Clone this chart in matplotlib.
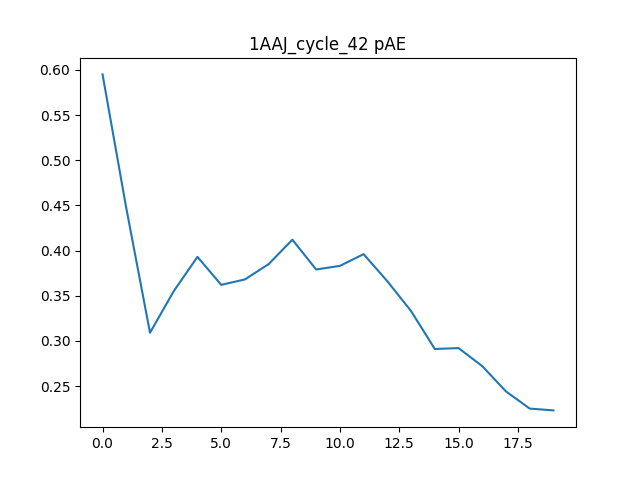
import numpy as np
import matplotlib
matplotlib.use("Agg")
import matplotlib.pyplot as plt

# -----------------------------
# Data
# -----------------------------
cycles = np.arange(20)
pae = [0.595, 0.447, 0.309, 0.355, 0.393, 0.362, 0.368, 0.385, 0.412, 0.379,
       0.383, 0.396, 0.366, 0.333, 0.291, 0.292, 0.272, 0.244, 0.225, 0.223]

# -----------------------------
# Plot
# -----------------------------
fig = plt.figure(figsize=(6.4, 4.8), dpi=100)
plt.plot(cycles, pae)
plt.title('1AAJ_cycle_42 pAE')
plt.savefig("out.png")
